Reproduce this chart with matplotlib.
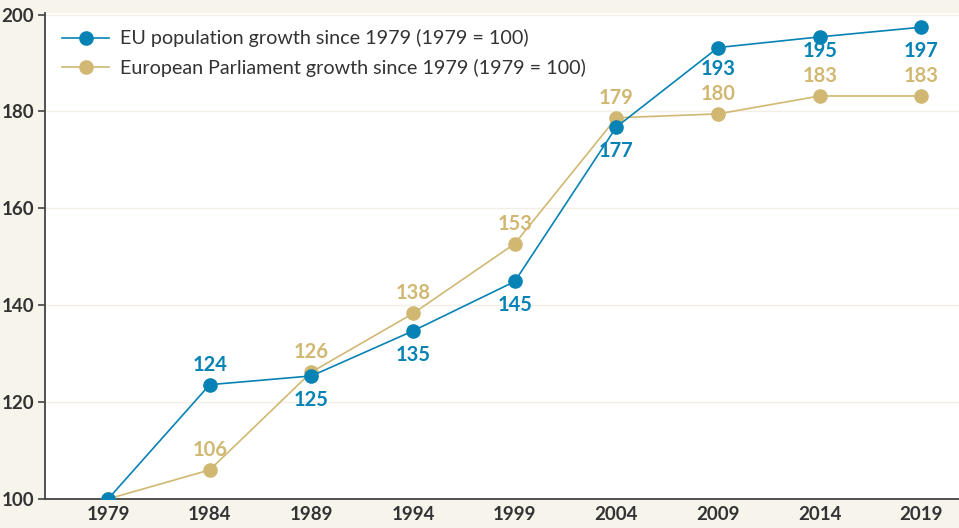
import matplotlib.pyplot as plt

plt.rcParams['font.family'] = ['Lato', 'DejaVu Sans']

years = ['1979', '1984', '1989', '1994', '1999', '2004', '2009', '2014', '2019']
eu_pop = [100, 123.6, 125.4, 134.7, 144.9, 176.8, 193.2, 195.4, 197.4]
ep_seats = [100, 106.0, 126.2, 138.3, 152.7, 178.7, 179.5, 183.2, 183.2]
eu_pos = [None, 'above', 'below', 'below', 'below', 'below', 'below', 'below', 'below']
ep_pos = [None, 'above', 'above', 'above', 'above', 'above', 'above', 'above', 'above']

blue = '#0683b4'
gold = '#d1b872'
bg = '#f7f4ec'
txt = '#333333'

fig = plt.figure(figsize=(9.59, 5.28), dpi=100, facecolor=bg)
ax = fig.add_axes([0.047, 0.055, 0.953, 0.921])
ax.set_facecolor('white')

x = list(range(len(years)))
ax.plot(x, eu_pop, color=blue, lw=1.2, marker='o', ms=9.5,
        label='EU population growth since 1979 (1979 = 100)', zorder=4)
ax.plot(x, ep_seats, color=gold, lw=1.2, marker='o', ms=9.5,
        label='European Parliament growth since 1979 (1979 = 100)', zorder=3)

ax.set_xlim(-0.62, 8.37)
ax.set_ylim(100, 200.4)

# points per data unit on the y axis, used to keep stacked labels apart
pt_per_unit = ax.get_position().height * fig.get_figheight() * 72 / (200.4 - 100)
up, down, min_gap = 14.5, 17, 18

for i in x:
    for vals, pos, col, other in [(eu_pop, eu_pos, blue, ep_seats),
                                  (ep_seats, ep_pos, gold, eu_pop)]:
        v, p = vals[i], pos[i]
        if p is None:
            continue
        if p == 'above':
            dy = up
        else:
            gap = (v - other[i]) * pt_per_unit
            dy = -down
            if gap > 0:
                dy = -min(down, gap - up - min_gap)
        ax.annotate(f'{v:.0f}', (i, v), xytext=(0, dy), textcoords='offset points',
                    ha='center', va='center', color=col, fontsize=14.5,
                    fontweight='bold', zorder=5)

ax.set_yticks([100, 120, 140, 160, 180, 200])
ax.set_xticks(x)
ax.set_xticklabels(years)
ax.grid(axis='y', color='#f4efe4', lw=1)
ax.set_axisbelow(True)

for s in ['top', 'right']:
    ax.spines[s].set_visible(False)
for s in ['left', 'bottom']:
    ax.spines[s].set_color('#444444')
    ax.spines[s].set_linewidth(1.3)

ax.tick_params(axis='y', length=5, width=1.2, color='#444444', labelsize=13.5,
               labelcolor=txt, pad=3)
ax.tick_params(axis='x', length=0, labelsize=13.5, labelcolor=txt, pad=5)
for lab in ax.get_xticklabels() + ax.get_yticklabels():
    lab.set_fontweight('bold')

leg = ax.legend(loc='upper left', frameon=False, fontsize=14.2, handlelength=2.4,
                labelspacing=0.6, borderaxespad=0.45, handletextpad=0.55,
                labelcolor=txt)

fig.savefig('out.png', dpi=100, facecolor=bg)
